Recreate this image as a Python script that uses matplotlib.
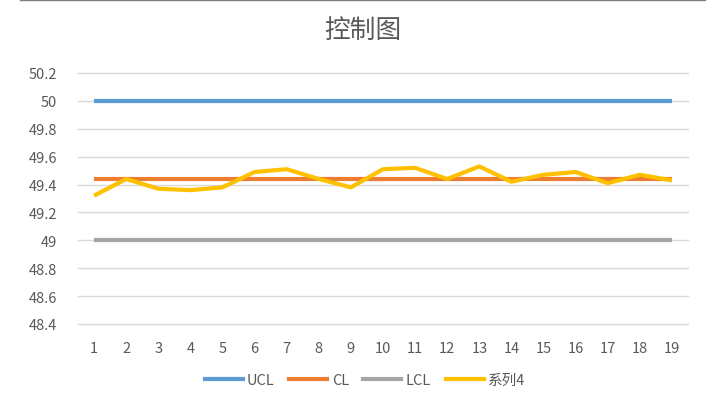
import matplotlib.pyplot as plt
from matplotlib.lines import Line2D

plt.rcParams['font.family'] = ['Noto Sans CJK SC', 'DejaVu Sans']

# data
points = list(range(1, 20))
ucl = [50.0] * 19
cl = [49.44] * 19
lcl = [49.0] * 19
series4 = [49.32, 49.44, 49.37, 49.36, 49.38, 49.49, 49.51, 49.44, 49.38, 49.51,
           49.52, 49.44, 49.53, 49.42, 49.47, 49.49, 49.41, 49.47, 49.43]
yticks = [48.4, 48.6, 48.8, 49.0, 49.2, 49.4, 49.6, 49.8, 50.0, 50.2]
ytick_labels = ['48.4', '48.6', '48.8', '49', '49.2', '49.4', '49.6', '49.8', '50', '50.2']

names = ['UCL', 'CL', 'LCL', '系列4']
colors = ['#5B9BD5', '#ED7D31', '#A5A5A5', '#FFC000']
txt = '#595959'

fig = plt.figure(figsize=(7.2, 4.1), dpi=100)
ax = fig.add_axes([78 / 720, 1 - 325 / 410, 610 / 720, 251 / 410])

for vals, c in zip([ucl, cl, lcl, series4], colors):
    ax.plot(points, vals, color=c, lw=3, solid_capstyle='butt', solid_joinstyle='round')

ax.set_xlim(0.5, 19.5)
ax.set_ylim(48.4, 50.2)
ax.set_yticks(yticks)
ax.set_yticklabels(ytick_labels)
ax.set_xticks(points)
for y in yticks:
    ax.axhline(y, color='#D9D9D9', lw=1, zorder=0, clip_on=False)
for s in ax.spines.values():
    s.set_visible(False)
ax.tick_params(length=0, colors=txt, labelsize=10.5)
ax.tick_params(axis='y', pad=15)
ax.tick_params(axis='x', pad=12)

fig.text(363 / 720, 1 - 31 / 410, '控制图', ha='center', va='center', fontsize=18.5, color=txt)

handles = [Line2D([0], [0], color=c, lw=3) for c in colors]
fig.legend(handles, names, loc='center', bbox_to_anchor=(365 / 720, 1 - 381 / 410), ncol=4,
           frameon=False, fontsize=10.5, labelcolor=txt, handlelength=2.6,
           handletextpad=0.3, columnspacing=1.0)

# thin frame line at the top edge of the screenshot
fig.add_artist(Line2D([20 / 720, 705 / 720], [1 - 1 / 410, 1 - 1 / 410],
                      color='#7F7F7F', lw=1, transform=fig.transFigure))

fig.savefig('out.png', dpi=100)
